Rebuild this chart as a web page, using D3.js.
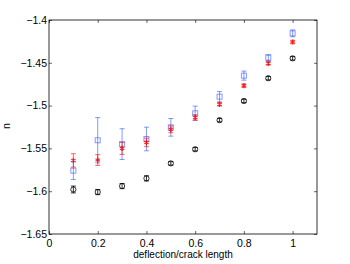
<!DOCTYPE html>
<html><head><meta charset="utf-8">
<script src="https://cdn.jsdelivr.net/npm/d3@7"></script>
<style>body{margin:0;background:#fff}svg{display:block}text{font-family:"Liberation Sans",Arial,sans-serif}</style>
</head><body><svg id="c" width="350" height="264"></svg>
<script>
const xs = [0.1,0.2,0.3,0.4,0.5,0.6,0.7,0.8,0.9,1.0];
const blackVals = [-1.598,-1.601,-1.594,-1.585,-1.5675,-1.551,-1.517,-1.4946,-1.468,-1.4448];
const blackErr  = [0.004,0.003,0.003,0.003,0.002,0.002,0.002,0.002,0.002,0.002];
const redVals   = [-1.564,-1.5636,-1.55,-1.543,-1.5277,-1.5137,-1.4985,-1.4767,-1.4506,-1.4257];
const redErr    = [0.0078,0.0063,0.007,0.005,0.004,0.003,0.002,0.002,0.002,0.002];
const blueVals  = [-1.576,-1.5405,-1.545,-1.539,-1.5254,-1.509,-1.4896,-1.465,-1.444,-1.4156];
const blueErr   = [0.0103,0.0265,0.018,0.0138,0.0103,0.0084,0.006,0.0053,0.0035,0.004];
const xTicks = [0,0.2,0.4,0.6,0.8,1];
const yTicks = [-1.65,-1.6,-1.55,-1.5,-1.45,-1.4];

const svg = d3.select("#c");
const L=49,R=317,T=20,B=234;
const x = d3.scaleLinear().domain([0,1.1]).range([L,R]);
const y = d3.scaleLinear().domain([-1.65,-1.4]).range([B,T]);
const fmt = v => (v<0?"\u2212":"") + String(Math.abs(+v.toFixed(2)));

svg.append("rect").attr("x",L).attr("y",T).attr("width",R-L).attr("height",B-T).attr("fill","#fff").attr("stroke","#000").attr("stroke-width",0.8);

const xa = svg.append("g").attr("transform",`translate(0,${B})`).call(d3.axisBottom(x).tickValues(xTicks).tickSize(-3).tickPadding(5.5).tickFormat(d=>String(d)));
const xt = svg.append("g").attr("transform",`translate(0,${T})`).call(d3.axisTop(x).tickValues(xTicks).tickSize(-3).tickFormat(""));
const ya = svg.append("g").attr("transform",`translate(${L},0)`).call(d3.axisLeft(y).tickValues(yTicks).tickSize(-3).tickPadding(2).tickFormat(fmt));
const yr = svg.append("g").attr("transform",`translate(${R},0)`).call(d3.axisRight(y).tickValues(yTicks).tickSize(-3).tickFormat(""));
[xa,xt,ya,yr].forEach(g=>{g.select(".domain").remove();g.selectAll(".tick line").attr("stroke","#000").attr("stroke-width",0.6);g.selectAll("text").attr("font-size",10.5).attr("fill","#000").attr("font-family","Liberation Sans, Arial, sans-serif");});

svg.append("text").attr("x",183).attr("y",258).attr("text-anchor","middle").attr("font-size",10).text("deflection/crack length");
svg.append("text").attr("transform","translate(10,126) rotate(-90)").attr("text-anchor","middle").attr("font-size",10.5).text("n");

function errbars(vals, errs, color, op, cap){
  const g = svg.append("g").attr("stroke",color).attr("stroke-opacity",op).attr("stroke-width",1).attr("fill","none");
  xs.forEach((xv,i)=>{
    const cx=x(xv), y1=y(vals[i]-errs[i]), y2=y(vals[i]+errs[i]);
    g.append("line").attr("x1",cx).attr("x2",cx).attr("y1",y1).attr("y2",y2);
    g.append("line").attr("x1",cx-cap).attr("x2",cx+cap).attr("y1",y1).attr("y2",y1);
    g.append("line").attr("x1",cx-cap).attr("x2",cx+cap).attr("y1",y2).attr("y2",y2);
  });
  return g;
}
// black circles
errbars(blackVals, blackErr, "#000", 0.8, 2.5);
svg.append("g").selectAll("circle").data(xs).join("circle")
  .attr("cx",d=>x(d)).attr("cy",(d,i)=>y(blackVals[i])).attr("r",2.6)
  .attr("fill","none").attr("stroke","#000").attr("stroke-width",0.8);
// blue squares
errbars(blueVals, blueErr, "#3355ff", 0.6, 2.5);
svg.append("g").selectAll("rect").data(xs).join("rect")
  .attr("x",d=>x(d)-2.5).attr("y",(d,i)=>y(blueVals[i])-2.5).attr("width",5).attr("height",5)
  .attr("fill","none").attr("stroke","#3355ff").attr("stroke-opacity",0.6).attr("stroke-width",1);
// red stars
errbars(redVals, redErr, "#ff0000", 0.6, 2.5);
const star = d3.symbol().type(d3.symbolAsterisk).size(18);
svg.append("g").selectAll("path").data(xs).join("path")
  .attr("transform",(d,i)=>`translate(${x(d)},${y(redVals[i])})`)
  .attr("d",star).attr("fill","none").attr("stroke","#ff0000").attr("stroke-opacity",0.8).attr("stroke-width",1.2);
</script></body></html>
